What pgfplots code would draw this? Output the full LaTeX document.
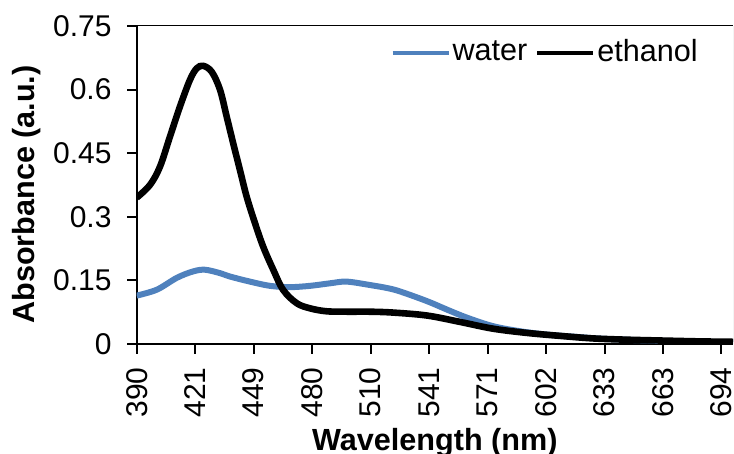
\documentclass[border=0pt]{standalone}
\usepackage{pgfplots}
\pgfplotsset{compat=1.18}
\usepackage{fontspec}
\setmainfont{Liberation Sans}
\definecolor{waterblue}{HTML}{4F81BD}

\begin{document}
\fontsize{15}{18}\selectfont
\begin{tikzpicture}
\begin{axis}[
  name=ax,
  scale only axis, width=298.2pt, height=159pt,
  xmin=390, xmax=700, ymin=0, ymax=0.75,
  axis lines=left, axis line style={-, line width=1pt},
  tick align=outside, major tick length=4.8pt,
  every tick/.style={black, line width=1pt},
  xtick={390,420.4,450.8,481.2,511.6,542,572.4,602.8,633.2,663.6,694},
  xticklabels={390,421,449,480,510,541,571,602,633,663,694},
  ytick={0,0.15,0.3,0.45,0.6,0.75},
  yticklabels={0,0.15,0.3,0.45,0.6,0.75},
  xticklabel style={rotate=90, anchor=east},
  yticklabel style={anchor=east},
  xticklabel shift=1.8pt, yticklabel shift=2.6pt,
  /pgf/number format/assume math mode=true,
  tick label style={font=\fontsize{15}{18}\selectfont},
  xlabel={Wavelength (nm)}, ylabel={Absorbance (a.u.)},
  every axis x label/.style={at={(axis description cs:0.5,-0.3365)}, anchor=base, font=\fontsize{15.3}{18}\selectfont\bfseries},
  every axis y label/.style={at={(axis description cs:-0.184,0.47)}, anchor=center, rotate=90, font=\fontsize{15.3}{18}\selectfont\bfseries},
  legend style={at={(rel axis cs:0.955,0.915)}, anchor=east, draw=none, fill=none,
    legend columns=-1, font=\fontsize{15.3}{18}\selectfont, nodes={inner sep=1pt},
    /tikz/every even column/.append style={column sep=3pt}},
  legend image code/.code={\draw[#1, line width=2pt] (0pt,0pt) -- (28pt,0pt);},
]
\addplot[waterblue, line width=3pt, smooth, tension=0.55] coordinates {
(390,0.114) (400.5,0.128) (410.9,0.156) (419.3,0.171) (425.5,0.175)
(433.3,0.167) (438.5,0.159) (448.9,0.147) (459.3,0.137) (469.7,0.134)
(480.1,0.137) (490.5,0.143) (499.1,0.147) (511.2,0.139) (520,0.132)
(526.8,0.124) (540.9,0.101) (551.3,0.081) (561.7,0.062) (575.2,0.042)
(589.2,0.030) (603.3,0.022) (620.4,0.016) (632.9,0.012) (663,0.007)
(682.8,0.005) (700,0.004)
};
\addlegendentry{water}
\addplot[black, line width=3.3pt, smooth, tension=0.55] coordinates {
(390,0.345) (396.9,0.375) (402.1,0.418) (407.3,0.489) (412.5,0.560)
(417.7,0.623) (421.2,0.650) (424.6,0.656) (429.0,0.642) (433.3,0.600)
(436.8,0.536) (440.2,0.473) (443.7,0.410) (447.2,0.347) (451.5,0.285)
(455.8,0.229) (461.0,0.175) (466.2,0.127) (473.2,0.096) (480.1,0.084)
(488.7,0.077) (500,0.076) (511.2,0.076) (523.2,0.074) (540.9,0.067)
(558,0.052) (575.2,0.036) (592.8,0.026) (610,0.019) (627.2,0.013)
(644.8,0.010) (663,0.008) (682.8,0.006) (700,0.005)
};
\addlegendentry{ethanol}
\draw[black, line width=0.5pt] (rel axis cs:0,1) -- (rel axis cs:1,1);
\draw[gray!70, line width=0.5pt] (rel axis cs:1,1) -- (rel axis cs:1,0);
\end{axis}
\pgfresetboundingbox
\path[use as bounding box] ([shift={(-68.35pt,-55pt)}]ax.south west) rectangle ([shift={(0.5pt,13pt)}]ax.north east);
\end{tikzpicture}
\end{document}
